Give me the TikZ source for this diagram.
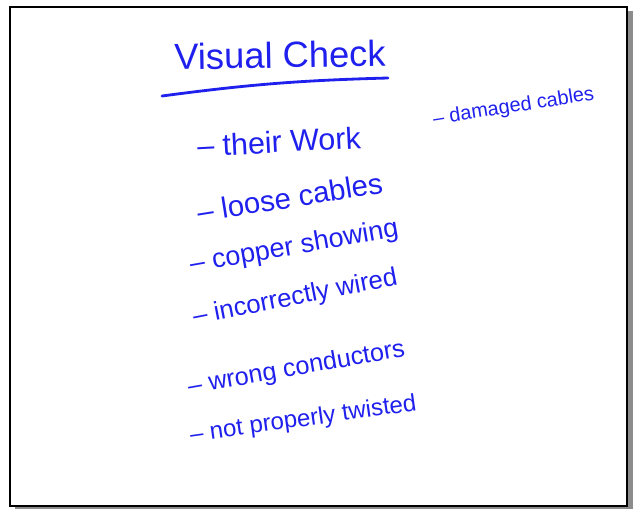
\documentclass[tikz,border=0pt]{standalone}
\usepackage{fontspec}
\setmainfont{Liberation Sans}
\definecolor{inkblue}{RGB}{32,32,238}
\tikzset{
  ink/.style={text=inkblue,inner sep=0pt,anchor=west},
  item/.style={ink,font=\fontsize{#1}{#1}\selectfont},
  item/.default=23,
  heading/.style={ink,anchor=center,font=\fontsize{31}{36}\selectfont},
  inkline/.style={draw=inkblue,line width=2.4pt,line cap=round},
}
\begin{document}
\begin{tikzpicture}[x=0.03cm,y=-0.03cm]
      \useasboundingbox (0,0) rectangle (637,509);
      % board with its shadow
      \fill[black!45] (15,11) rectangle (633,509);
      \draw[fill=white,line width=1.6pt] (10,7) rectangle (627,506);
      \draw
        (280,55) node[heading,rotate=1] (title){Visual Check}
        (197,146) node[item=26,rotate=3] (work){-- their Work}
        (197,212) node[item=25,rotate=9] (loose){-- loose cables}
        (190,266) node[item=23,rotate=10] (copper){-- copper showing}
        (193,318) node[item=22,rotate=11] (wired){-- incorrectly wired}
        (188,388) node[item=21.5,rotate=10] (wrong){-- wrong conductors}
        (190,436) node[item=20.5,rotate=8] (twisted){-- not properly twisted}
        (433,120) node[item=17,rotate=9] (damaged){-- damaged cables};
      \coordinate (ulL) at (162,96);
      \coordinate (ulR) at (388,78);
      \draw[inkline] (ulL) to[bend left=3] (ulR);
    \end{tikzpicture}
\end{document}
